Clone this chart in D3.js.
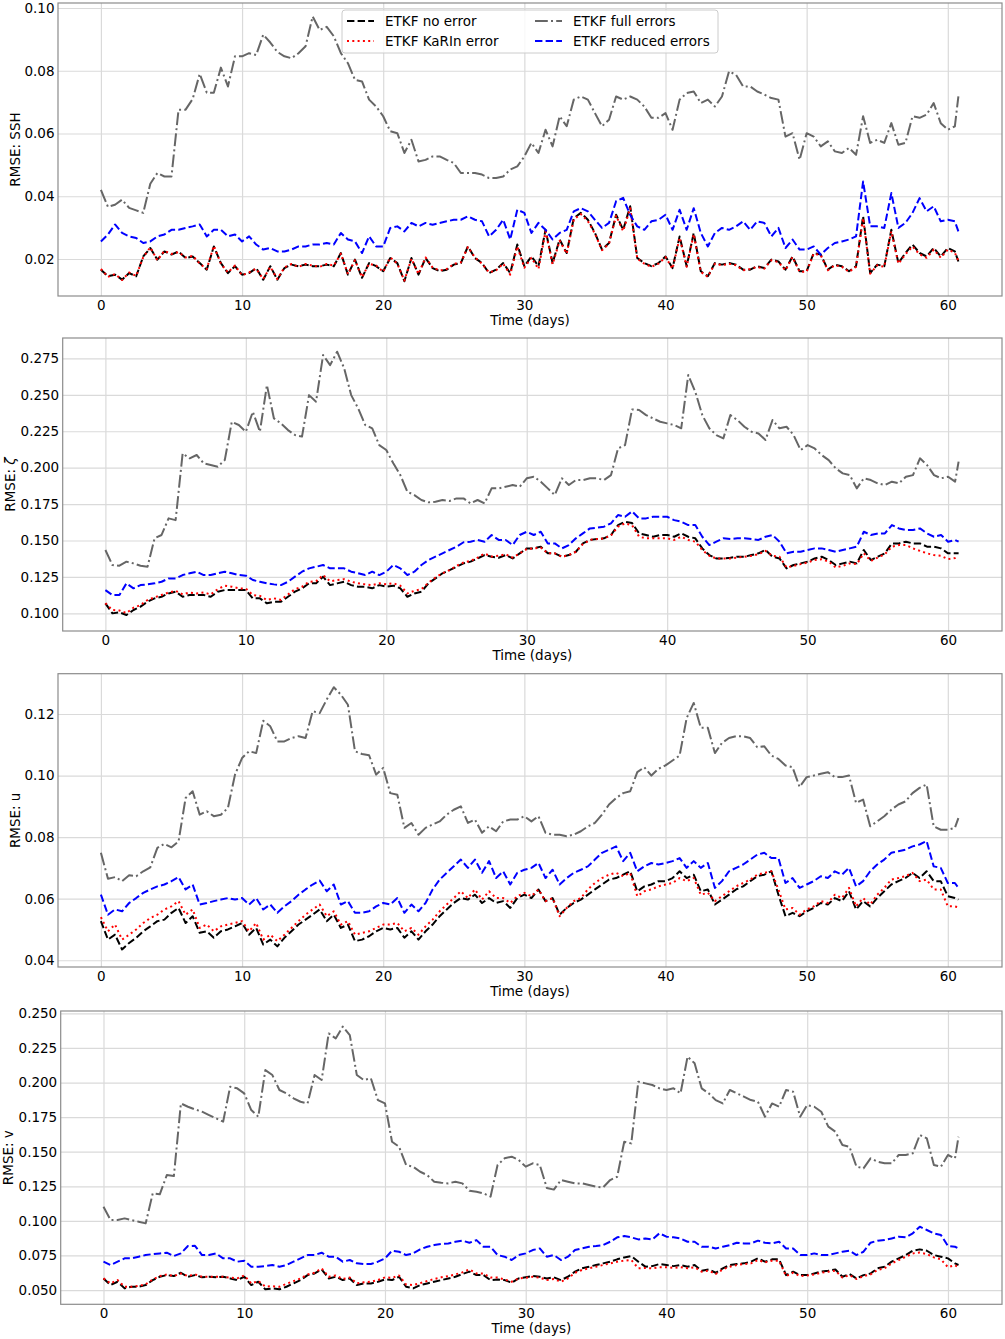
<!DOCTYPE html>
<html>
<head>
<meta charset="utf-8">
<script src="https://cdn.jsdelivr.net/npm/d3@7"></script>
<style>
  body { margin: 0; background: #fff; }
  svg text { font-family: "DejaVu Sans", sans-serif; }
</style>
</head>
<body>
<svg id="fig" width="1005" height="1339"></svg>
<script>
// time axis (days), half-day sampling
const days = [
  0,0.5,1,1.5,2,2.5,3,3.5,4,4.5, 5,5.5,6,6.5,7,7.5,8,8.5,9,9.5,
  10,10.5,11,11.5,12,12.5,13,13.5,14,14.5, 15,15.5,16,16.5,17,17.5,18,18.5,19,19.5,
  20,20.5,21,21.5,22,22.5,23,23.5,24,24.5, 25,25.5,26,26.5,27,27.5,28,28.5,29,29.5,
  30,30.5,31,31.5,32,32.5,33,33.5,34,34.5, 35,35.5,36,36.5,37,37.5,38,38.5,39,39.5,
  40,40.5,41,41.5,42,42.5,43,43.5,44,44.5, 45,45.5,46,46.5,47,47.5,48,48.5,49,49.5,
  50,50.5,51,51.5,52,52.5,53,53.5,54,54.5, 55,55.5,56,56.5,57,57.5,58,58.5,59,59.5,
  60,60.5,60.75
];

const seriesNames = ["ETKF no error", "ETKF KaRIn error", "ETKF full errors", "ETKF reduced errors"];
const xTicks = [0, 10, 20, 30, 40, 50, 60];

// --- SSH ---
const sshNoErr = [
  0.0166,0.0145,0.015,0.0134,0.0155,0.0145,0.0208,0.0235,0.0198,0.0224,
  0.0214,0.0224,0.0203,0.0208,0.0187,0.0166,0.024,0.0187,0.0155,0.0177,
  0.015,0.0155,0.0171,0.0134,0.0177,0.0134,0.0171,0.0182,0.0177,0.0182,
  0.0177,0.0177,0.0182,0.0177,0.0219,0.015,0.0198,0.014,0.0187,0.0177,
  0.0161,0.0203,0.0187,0.0129,0.0203,0.015,0.0203,0.0171,0.0161,0.0166,
  0.0182,0.0187,0.024,0.0203,0.0187,0.0155,0.0166,0.0187,0.0155,0.0246,
  0.0177,0.0208,0.0177,0.0293,0.0187,0.0262,0.0219,0.033,0.0347,0.0325,
  0.0283,0.023,0.0251,0.0341,0.0293,0.0368,0.0203,0.0187,0.0177,0.0187,
  0.0208,0.0171,0.0272,0.0177,0.0283,0.0161,0.0145,0.0187,0.0182,0.0187,
  0.0182,0.0166,0.0166,0.0177,0.0171,0.0198,0.0192,0.0166,0.0208,0.0161,
  0.0161,0.0219,0.0214,0.0166,0.0182,0.0177,0.0161,0.0177,0.0336,0.0155,
  0.0182,0.0177,0.0293,0.0187,0.0219,0.0246,0.0219,0.0208,0.0235,0.0208,
  0.0235,0.0224,0.0192
];
const sshKarin = [
  0.0168,0.0143,0.0152,0.0133,0.0157,0.0146,0.0206,0.0237,0.0196,0.0226,
  0.0216,0.0222,0.0205,0.021,0.0185,0.0168,0.0242,0.0185,0.0157,0.0179,
  0.0148,0.0157,0.0169,0.0136,0.0175,0.0136,0.0173,0.0184,0.0175,0.0184,
  0.0179,0.0175,0.0184,0.0179,0.0217,0.0152,0.0196,0.0142,0.0185,0.0179,
  0.0159,0.0205,0.0185,0.0131,0.0201,0.0152,0.0205,0.0173,0.0163,0.0168,
  0.0184,0.0189,0.0238,0.0205,0.0185,0.0157,0.0164,0.0185,0.015,0.024,
  0.0172,0.0204,0.0168,0.0288,0.0183,0.0258,0.0217,0.0326,0.0343,0.0321,
  0.0281,0.0228,0.0249,0.0338,0.0289,0.0362,0.0201,0.0185,0.0175,0.0185,
  0.0206,0.0169,0.0268,0.0175,0.0279,0.0159,0.0143,0.0185,0.018,0.0185,
  0.018,0.0164,0.0168,0.0175,0.0169,0.0196,0.019,0.0164,0.0206,0.0159,
  0.0159,0.0217,0.0212,0.0164,0.018,0.0175,0.0159,0.0175,0.033,0.0153,
  0.018,0.0175,0.0288,0.0185,0.0215,0.024,0.0215,0.0204,0.023,0.0204,
  0.023,0.022,0.0194
];
const sshFull = [
  0.042,0.0366,0.0373,0.0389,0.0363,0.0355,0.0347,0.044,0.0474,0.0463,
  0.0463,0.0676,0.0676,0.071,0.079,0.073,0.073,0.081,0.075,0.0846,
  0.0846,0.0856,0.085,0.0915,0.089,0.086,0.0846,0.084,0.0856,0.0878,
  0.0973,0.093,0.094,0.091,0.0856,0.0824,0.0771,0.0766,0.0708,0.0686,
  0.0655,0.0607,0.0601,0.0538,0.058,0.0511,0.0516,0.0527,0.0527,0.0516,
  0.0506,0.0474,0.0474,0.0474,0.0469,0.0458,0.0458,0.0463,0.0485,0.0495,
  0.0527,0.057,0.0538,0.0612,0.0559,0.0655,0.0623,0.0708,0.0718,0.0708,
  0.0665,0.0623,0.0644,0.0718,0.0708,0.0718,0.0708,0.0686,0.065,0.065,
  0.0665,0.0612,0.0708,0.0729,0.0734,0.0697,0.0708,0.0686,0.0718,0.0798,
  0.0787,0.075,0.075,0.0734,0.0724,0.0713,0.0708,0.059,0.0601,0.0516,
  0.0601,0.059,0.0559,0.0575,0.0543,0.0538,0.0554,0.0532,0.0655,0.057,
  0.058,0.057,0.0633,0.0564,0.057,0.0655,0.065,0.066,0.0697,0.0633,
  0.0612,0.0623,0.0718
];
const sshReduced = [
  0.0256,0.0278,0.031,0.0283,0.0272,0.0267,0.0251,0.0256,0.0272,0.0278,
  0.0293,0.0293,0.0299,0.0304,0.031,0.0272,0.0293,0.0293,0.0272,0.0278,
  0.0256,0.0272,0.0246,0.023,0.0235,0.0224,0.0224,0.023,0.024,0.024,
  0.0246,0.0246,0.0251,0.0246,0.0283,0.0262,0.0256,0.0219,0.0272,0.024,
  0.024,0.0299,0.0304,0.0288,0.0315,0.0304,0.0315,0.0309,0.0315,0.032,
  0.0325,0.0325,0.0336,0.0325,0.032,0.0272,0.0293,0.0325,0.0262,0.0357,
  0.0347,0.0283,0.0315,0.0293,0.0262,0.0283,0.0293,0.0352,0.0362,0.0352,
  0.0325,0.0299,0.0315,0.0384,0.0395,0.034,0.0304,0.0293,0.032,0.0325,
  0.0341,0.0293,0.0357,0.0293,0.0362,0.0283,0.024,0.0283,0.0299,0.0293,
  0.0304,0.032,0.0293,0.032,0.0315,0.0272,0.0299,0.0235,0.0262,0.023,
  0.023,0.024,0.0214,0.0235,0.0251,0.0256,0.0262,0.0272,0.0447,0.0304,
  0.0304,0.0299,0.041,0.0299,0.0315,0.0347,0.0394,0.0352,0.0368,0.032,
  0.0325,0.032,0.0288
];

// --- zeta ---
const zetaNoErr = [
  0.1069,0.1,0.1007,0.0989,0.1023,0.1046,0.108,0.1103,0.1114,0.1137,
  0.1149,0.1114,0.1126,0.1126,0.1126,0.1114,0.1149,0.116,0.116,0.116,
  0.116,0.1103,0.1103,0.1069,0.108,0.108,0.1114,0.1149,0.1172,0.1206,
  0.1206,0.1252,0.1194,0.1206,0.1217,0.1194,0.1183,0.1183,0.1172,0.1194,
  0.1183,0.119,0.1172,0.1114,0.1137,0.1149,0.1206,0.124,0.1275,0.1297,
  0.132,0.1343,0.1355,0.1377,0.14,0.1389,0.1382,0.14,0.1377,0.1412,
  0.1446,0.1446,0.1458,0.1412,0.1412,0.1389,0.14,0.1423,0.148,0.1504,
  0.151,0.1515,0.1538,0.1606,0.1629,0.162,0.1549,0.1538,0.1526,0.1538,
  0.1538,0.1526,0.1549,0.1526,0.1515,0.1446,0.14,0.1377,0.1377,0.1382,
  0.1389,0.1389,0.14,0.1412,0.1435,0.1389,0.1377,0.1309,0.1332,0.1343,
  0.1355,0.1377,0.1389,0.1366,0.1332,0.1343,0.1355,0.1343,0.1435,0.1366,
  0.1389,0.1412,0.148,0.148,0.1492,0.148,0.148,0.1458,0.1458,0.1446,
  0.1412,0.1412,0.1412
];
const zetaKarin = [
  0.107,0.1023,0.102,0.1002,0.1039,0.1057,0.1092,0.111,0.1126,0.1143,
  0.1155,0.113,0.1143,0.1137,0.1143,0.113,0.1166,0.119,0.1183,0.1172,
  0.117,0.1126,0.112,0.1092,0.1103,0.1092,0.113,0.1166,0.1183,0.1217,
  0.122,0.1263,0.122,0.1229,0.1235,0.1217,0.1206,0.1199,0.1194,0.1206,
  0.12,0.1206,0.119,0.1137,0.1155,0.1166,0.121,0.1246,0.1275,0.1297,
  0.1326,0.1349,0.136,0.1383,0.141,0.139,0.1395,0.1405,0.1383,0.1412,
  0.1441,0.1446,0.1452,0.1412,0.1412,0.1389,0.14,0.1423,0.1475,0.1504,
  0.151,0.1515,0.1535,0.1595,0.1618,0.1605,0.1526,0.1515,0.1515,0.1515,
  0.1515,0.1504,0.1526,0.1504,0.1492,0.1435,0.1395,0.1377,0.1377,0.1377,
  0.1383,0.1389,0.1395,0.1406,0.1429,0.1395,0.1389,0.1315,0.1326,0.1338,
  0.1349,0.1366,0.1372,0.1355,0.1315,0.1326,0.1343,0.1338,0.1412,0.136,
  0.1383,0.1406,0.1458,0.1469,0.1469,0.1446,0.1429,0.1412,0.14,0.1395,
  0.1372,0.138,0.139
];
const zetaFull = [
  0.1435,0.1332,0.1327,0.1355,0.1343,0.1327,0.132,0.1515,0.1538,0.1652,
  0.164,0.2098,0.2064,0.2087,0.203,0.2018,0.2007,0.2052,0.2315,0.2293,
  0.2247,0.2384,0.2247,0.2567,0.2338,0.2304,0.2258,0.2224,0.2213,0.2498,
  0.2453,0.2773,0.2704,0.2796,0.2682,0.2498,0.2407,0.2293,0.227,0.2155,
  0.2121,0.203,0.1949,0.1835,0.1812,0.1778,0.1762,0.1766,0.1778,0.1771,
  0.1789,0.1789,0.1755,0.1778,0.1755,0.1858,0.1858,0.1869,0.1881,0.1869,
  0.1927,0.1938,0.1904,0.1858,0.1812,0.1927,0.1881,0.1915,0.1915,0.1927,
  0.1927,0.1915,0.1949,0.2132,0.2155,0.24,0.2396,0.2361,0.2338,0.2315,
  0.2304,0.2293,0.227,0.2636,0.2521,0.2361,0.227,0.2224,0.2201,0.2361,
  0.2327,0.2281,0.2247,0.2235,0.219,0.2327,0.227,0.2281,0.2224,0.2121,
  0.2155,0.2132,0.2087,0.2052,0.1995,0.1961,0.1949,0.1858,0.1927,0.1915,
  0.1892,0.1881,0.1904,0.1892,0.1938,0.1949,0.2064,0.2018,0.1949,0.1927,
  0.1938,0.1904,0.2041
];
const zetaReduced = [
  0.116,0.1126,0.1126,0.1206,0.1172,0.1194,0.1199,0.1206,0.1217,0.124,
  0.124,0.1263,0.1275,0.1286,0.1263,0.1263,0.1275,0.1286,0.1275,0.1263,
  0.1259,0.1229,0.1217,0.1206,0.1199,0.1194,0.1217,0.1252,0.1286,0.1309,
  0.132,0.1332,0.1309,0.1309,0.1309,0.1286,0.1275,0.1263,0.1286,0.1263,
  0.1286,0.1332,0.1309,0.1263,0.1286,0.1332,0.1366,0.1389,0.1412,0.1435,
  0.1458,0.1488,0.1492,0.1504,0.1492,0.1538,0.1504,0.1504,0.1469,0.1538,
  0.156,0.1538,0.156,0.148,0.148,0.1446,0.1469,0.1515,0.1549,0.1583,
  0.1588,0.1595,0.1618,0.1675,0.1663,0.17,0.1652,0.1652,0.1663,0.1663,
  0.1663,0.164,0.1629,0.1606,0.1606,0.1526,0.1469,0.1492,0.1515,0.151,
  0.1515,0.1515,0.151,0.1504,0.1526,0.1538,0.1492,0.1412,0.1423,0.1423,
  0.1435,0.1446,0.1446,0.1435,0.1423,0.1435,0.1446,0.1458,0.156,0.1538,
  0.1549,0.1549,0.1606,0.1583,0.1572,0.1572,0.1583,0.1549,0.1526,0.1538,
  0.1492,0.1504,0.1492
];

// --- u ---
const uNoErr = [
  0.0527,0.0467,0.0483,0.0435,0.0456,0.0473,0.0494,0.051,0.0527,0.0532,
  0.0554,0.057,0.0521,0.0543,0.0489,0.0494,0.0473,0.0494,0.05,0.051,
  0.0521,0.0483,0.0505,0.0451,0.0467,0.0445,0.0473,0.0494,0.0516,0.0532,
  0.0548,0.0565,0.0527,0.0548,0.0505,0.0516,0.0462,0.0467,0.0478,0.0494,
  0.0505,0.05,0.0505,0.0473,0.0494,0.0467,0.0494,0.0516,0.0543,0.0565,
  0.0586,0.0602,0.0597,0.0613,0.0586,0.0602,0.0586,0.0592,0.057,0.0602,
  0.0613,0.0602,0.063,0.0592,0.0602,0.0548,0.057,0.0586,0.0597,0.0613,
  0.063,0.0646,0.0662,0.0667,0.0678,0.0689,0.0624,0.064,0.0646,0.0657,
  0.0657,0.0667,0.0689,0.0667,0.0678,0.0624,0.063,0.0581,0.0597,0.0613,
  0.063,0.064,0.0657,0.0673,0.0678,0.0689,0.0613,0.0543,0.0554,0.0543,
  0.0559,0.057,0.0586,0.0581,0.0602,0.0592,0.0624,0.0565,0.0592,0.0575,
  0.0602,0.0624,0.0646,0.0657,0.0667,0.0684,0.0667,0.0689,0.0657,0.0657,
  0.0608,0.0602,0.0597
];
const uKarin = [
  0.054,0.0494,0.0516,0.0467,0.0483,0.05,0.0521,0.0537,0.0548,0.0565,
  0.0575,0.0592,0.0548,0.0565,0.0505,0.0516,0.0494,0.051,0.0516,0.0521,
  0.0527,0.0494,0.0521,0.0467,0.0483,0.0462,0.0483,0.0505,0.0527,0.0548,
  0.0565,0.0581,0.0543,0.0559,0.0516,0.0527,0.0483,0.0489,0.0494,0.0505,
  0.0516,0.0516,0.0521,0.0494,0.0505,0.0483,0.051,0.0532,0.0559,0.0581,
  0.0602,0.0624,0.0602,0.063,0.0597,0.0624,0.0602,0.0602,0.0586,0.0608,
  0.0619,0.0608,0.063,0.0592,0.0602,0.0543,0.057,0.0592,0.0602,0.063,
  0.0651,0.0667,0.0678,0.0684,0.0673,0.0684,0.0608,0.0624,0.063,0.064,
  0.0646,0.0651,0.0667,0.0657,0.0667,0.0613,0.0619,0.0592,0.0608,0.0624,
  0.064,0.0651,0.0662,0.0678,0.0684,0.0689,0.063,0.0565,0.057,0.0548,
  0.0565,0.0575,0.0592,0.0586,0.0613,0.0602,0.0635,0.0575,0.0602,0.0581,
  0.0613,0.0635,0.0662,0.0667,0.0673,0.0684,0.0657,0.0662,0.063,0.063,
  0.0575,0.0575,0.0572
];
const uFull = [
  0.0749,0.0665,0.067,0.0657,0.0676,0.0673,0.0689,0.0702,0.0765,0.0778,
  0.0767,0.0786,0.0927,0.0949,0.0873,0.0884,0.0868,0.0873,0.0895,0.1003,
  0.1057,0.1079,0.1073,0.1178,0.116,0.1111,0.1111,0.1122,0.1128,0.1122,
  0.1209,0.1203,0.1247,0.1287,0.1263,0.123,0.1079,0.107,0.1066,0.1003,
  0.1025,0.0943,0.0938,0.083,0.0846,0.0808,0.083,0.0841,0.0851,0.0873,
  0.0889,0.09,0.0846,0.0857,0.0814,0.0835,0.0819,0.0851,0.0857,0.0857,
  0.0868,0.0851,0.0868,0.0814,0.0808,0.0808,0.0803,0.0808,0.0819,0.0835,
  0.0846,0.0873,0.0906,0.0927,0.0943,0.0949,0.1011,0.1027,0.1,0.1022,
  0.1033,0.1049,0.1065,0.1187,0.1236,0.1155,0.1155,0.1073,0.1106,0.1122,
  0.1128,0.1128,0.1122,0.1092,0.1095,0.1065,0.1054,0.1033,0.1027,0.0963,
  0.0995,0.1,0.1006,0.1011,0.0995,0.0995,0.1,0.0911,0.0922,0.0835,
  0.0851,0.0868,0.0889,0.0906,0.0916,0.0943,0.096,0.0971,0.0835,0.0824,
  0.0824,0.083,0.0862
];
const uReduced = [
  0.0613,0.0548,0.0565,0.0559,0.0586,0.0602,0.0619,0.063,0.064,0.0646,
  0.0657,0.067,0.063,0.0646,0.0581,0.0586,0.0592,0.0597,0.0602,0.0597,
  0.0602,0.0581,0.0602,0.0565,0.0581,0.0554,0.0575,0.0592,0.0613,0.063,
  0.0646,0.0659,0.0624,0.0646,0.0581,0.0592,0.0554,0.0554,0.0559,0.0575,
  0.0586,0.0581,0.0602,0.0554,0.0581,0.0559,0.0586,0.063,0.0662,0.0684,
  0.0705,0.0727,0.07,0.0727,0.0684,0.0722,0.0667,0.0689,0.0646,0.0684,
  0.0694,0.07,0.0716,0.0667,0.0694,0.0646,0.0667,0.0684,0.0694,0.0705,
  0.0727,0.0749,0.0759,0.077,0.0722,0.0749,0.0689,0.0705,0.0716,0.0711,
  0.0716,0.0722,0.0732,0.07,0.0722,0.07,0.0716,0.0635,0.0657,0.0689,
  0.07,0.0711,0.0727,0.0743,0.0749,0.0732,0.0732,0.0651,0.0667,0.0635,
  0.0646,0.0657,0.0673,0.0667,0.0689,0.0678,0.07,0.064,0.0657,0.0689,
  0.0711,0.0727,0.0749,0.0754,0.0759,0.077,0.0776,0.0787,0.0705,0.07,
  0.0651,0.0651,0.0635
];

// --- v ---
const vNoErr = [
  0.0584,0.0536,0.056,0.0512,0.0524,0.0524,0.0536,0.0572,0.0596,0.0608,
  0.0601,0.0625,0.0596,0.0608,0.0592,0.0596,0.0592,0.0596,0.0584,0.0572,
  0.0596,0.0536,0.056,0.0505,0.0512,0.0505,0.0524,0.0548,0.0572,0.0608,
  0.062,0.0649,0.0584,0.0596,0.0572,0.0584,0.0536,0.0548,0.0548,0.056,
  0.0577,0.0572,0.0596,0.0524,0.0512,0.0536,0.0548,0.056,0.0572,0.0584,
  0.0596,0.0616,0.0633,0.0608,0.0608,0.0572,0.0577,0.0572,0.0553,0.0584,
  0.0592,0.0601,0.0596,0.0584,0.0592,0.0572,0.0596,0.0633,0.0657,0.0669,
  0.0681,0.0693,0.0705,0.0722,0.0736,0.0746,0.0705,0.0669,0.0673,0.0688,
  0.0681,0.0673,0.0681,0.0669,0.0681,0.064,0.0649,0.0625,0.0657,0.0681,
  0.0688,0.0693,0.0705,0.0729,0.0705,0.0722,0.0722,0.0608,0.0633,0.0608,
  0.0608,0.062,0.0633,0.064,0.0649,0.0596,0.0616,0.0584,0.0608,0.062,
  0.0657,0.0669,0.0705,0.0729,0.0753,0.0784,0.0794,0.0784,0.0753,0.0741,
  0.0729,0.0693,0.0681
];
const vKarin = [
  0.0584,0.0548,0.0572,0.0524,0.0524,0.053,0.0542,0.0577,0.0601,0.0613,
  0.0601,0.062,0.0601,0.0613,0.0596,0.0596,0.0596,0.0596,0.059,0.0584,
  0.0605,0.0548,0.0565,0.0525,0.0528,0.0524,0.0545,0.0565,0.0584,0.0613,
  0.0625,0.0657,0.0596,0.0605,0.058,0.059,0.0548,0.0556,0.056,0.0572,
  0.0592,0.0588,0.0605,0.054,0.0536,0.055,0.0565,0.058,0.0592,0.0601,
  0.0613,0.0628,0.0649,0.062,0.062,0.059,0.059,0.0577,0.056,0.0584,
  0.0588,0.0596,0.059,0.0572,0.058,0.056,0.0584,0.0625,0.0645,0.0657,
  0.0669,0.0681,0.0693,0.0705,0.0712,0.0717,0.0657,0.066,0.0657,0.0665,
  0.0665,0.066,0.0665,0.0657,0.0665,0.0633,0.064,0.0616,0.0649,0.0669,
  0.0681,0.0688,0.0693,0.0717,0.07,0.0712,0.0712,0.0601,0.0625,0.0601,
  0.0605,0.0613,0.0625,0.0633,0.064,0.059,0.0608,0.058,0.06,0.0613,
  0.0645,0.0657,0.0693,0.0717,0.074,0.0765,0.0772,0.076,0.0736,0.0722,
  0.0665,0.068,0.0665
];
const vFull = [
  0.1102,0.1006,0.1006,0.1018,0.1006,0.0994,0.0982,0.1199,0.1192,0.1331,
  0.1324,0.1849,0.1825,0.1806,0.1789,0.1765,0.1741,0.1717,0.197,0.1958,
  0.1922,0.1801,0.1753,0.209,0.2054,0.1946,0.1922,0.1886,0.1861,0.1849,
  0.2054,0.2018,0.2355,0.2319,0.2404,0.2343,0.2054,0.2018,0.203,0.1873,
  0.1849,0.1572,0.1536,0.1404,0.1392,0.1355,0.1331,0.1283,0.1276,0.1271,
  0.1283,0.1271,0.1218,0.1211,0.1199,0.1175,0.1404,0.1452,0.1464,0.144,
  0.1392,0.1416,0.1404,0.1238,0.1226,0.1295,0.1283,0.1271,0.1271,0.1259,
  0.1247,0.1242,0.1295,0.1319,0.1572,0.156,0.2006,0.1994,0.1982,0.1958,
  0.1946,0.1958,0.1922,0.2187,0.2139,0.1958,0.1922,0.1873,0.1849,0.1946,
  0.1922,0.1898,0.1873,0.1861,0.1753,0.1849,0.1825,0.1946,0.1934,0.1753,
  0.1837,0.1825,0.1789,0.1681,0.1645,0.1548,0.1536,0.1392,0.138,0.1452,
  0.1428,0.1416,0.1416,0.1476,0.1476,0.1488,0.1621,0.1596,0.1404,0.1392,
  0.1476,0.1452,0.1608
];
const vReduced = [
  0.0705,0.0681,0.0705,0.0729,0.0729,0.0741,0.0753,0.076,0.0765,0.077,
  0.0746,0.0765,0.0818,0.082,0.0753,0.0753,0.0765,0.0729,0.0729,0.0705,
  0.0712,0.0669,0.0669,0.0673,0.0681,0.0669,0.0681,0.0705,0.0729,0.0753,
  0.0753,0.077,0.0741,0.0741,0.0705,0.0717,0.0693,0.0688,0.0688,0.0705,
  0.0729,0.0784,0.0777,0.0753,0.0765,0.0794,0.0813,0.0825,0.0833,0.0837,
  0.0849,0.0857,0.0842,0.0861,0.0813,0.0813,0.0753,0.0741,0.0717,0.0753,
  0.0765,0.0789,0.0801,0.0741,0.0753,0.0717,0.0741,0.0789,0.0801,0.0813,
  0.0818,0.0825,0.0849,0.0881,0.089,0.0881,0.0866,0.0873,0.0866,0.091,
  0.0886,0.0881,0.0873,0.0849,0.0849,0.0813,0.0813,0.0801,0.0813,0.0825,
  0.0842,0.0837,0.0837,0.0857,0.0842,0.0837,0.0849,0.0801,0.0801,0.0753,
  0.0753,0.0765,0.0753,0.0753,0.0765,0.0777,0.0784,0.0753,0.0777,0.0842,
  0.0857,0.0861,0.0873,0.0886,0.0881,0.091,0.0958,0.0934,0.091,0.0898,
  0.0818,0.0813,0.0801
];

// y ticks per panel
const sshTicks  = [0.02, 0.04, 0.06, 0.08, 0.10];
const zetaTicks = [0.100, 0.125, 0.150, 0.175, 0.200, 0.225, 0.250, 0.275];
const uTicks    = [0.04, 0.06, 0.08, 0.10, 0.12];
const vTicks    = [0.050, 0.075, 0.100, 0.125, 0.150, 0.175, 0.200, 0.225, 0.250];

// line styles, in legend order
const styles = [
  { color: "#000000", dash: "7.4,3.2" },
  { color: "#ff0000", dash: "2,3.3" },
  { color: "#666666", dash: "12.8,3.2,2,3.2" },
  { color: "#0000ff", dash: "7.4,3.2" }
];

const panels = [
  { label: "SSH", italic: false, ticks: sshTicks, fmt: ".2f", domain: [0.0082, 0.1016],
    box: { left: 58, right: 1002, top: 3, bottom: 296 }, labelX: 20,
    series: [sshNoErr, sshKarin, sshFull, sshReduced], legend: true },
  { label: "ζ", italic: true, ticks: zetaTicks, fmt: ".3f", domain: [0.0879, 0.289],
    box: { left: 62.7, right: 1002, top: 338, bottom: 631 }, labelX: 15,
    series: [zetaNoErr, zetaKarin, zetaFull, zetaReduced] },
  { label: "u", italic: false, ticks: uTicks, fmt: ".2f", domain: [0.0378, 0.1331],
    box: { left: 58, right: 1002, top: 673.7, bottom: 967 }, labelX: 20,
    series: [uNoErr, uKarin, uFull, uReduced] },
  { label: "v", italic: false, ticks: vTicks, fmt: ".3f", domain: [0.0397, 0.2517],
    box: { left: 60.7, right: 1002, top: 1011, bottom: 1304.3 }, labelX: 13,
    series: [vNoErr, vKarin, vFull, vReduced] }
];

const svg = d3.select("#fig");
svg.append("rect").attr("width", 1005).attr("height", 1339).attr("fill", "#fff");

panels.forEach((p, i) => drawPanel(p, i));

function drawPanel(p, i) {
  const b = p.box;
  const w = b.right - b.left;
  const h = b.bottom - b.top;

  const x = d3.scaleLinear().domain([-3.04, 63.84]).range([0, w]);
  const y = d3.scaleLinear().domain(p.domain).range([h, 0]);

  const g = svg.append("g").attr("transform", `translate(${b.left},${b.top})`);

  g.append("clipPath").attr("id", "clip" + i)
    .append("rect").attr("width", w).attr("height", h);

  // grid
  g.append("g")
    .attr("class", "grid")
    .attr("transform", `translate(0,${h})`)
    .call(d3.axisBottom(x).tickValues(xTicks).tickSize(-h).tickFormat(""))
    .call(a => a.select(".domain").remove());
  g.append("g")
    .attr("class", "grid")
    .call(d3.axisLeft(y).tickValues(p.ticks).tickSize(-w).tickFormat(""))
    .call(a => a.select(".domain").remove());
  g.selectAll(".grid line").attr("stroke", "#dadada").attr("stroke-width", 1.2);

  // tick labels
  g.append("g")
    .attr("transform", `translate(0,${h})`)
    .call(d3.axisBottom(x).tickValues(xTicks).tickSize(0).tickPadding(4).tickFormat(d3.format("d")))
    .call(a => a.select(".domain").remove())
    .selectAll("text")
    .style("font-size", "13.5px").attr("fill", "#000");
  g.append("g")
    .call(d3.axisLeft(y).tickValues(p.ticks).tickSize(0).tickPadding(3.5).tickFormat(d3.format(p.fmt)))
    .call(a => a.select(".domain").remove())
    .selectAll("text")
    .style("font-size", "13.5px").attr("fill", "#000");

  // series
  const line = d3.line()
    .x((d, k) => x(days[k]))
    .y(d => y(d));

  const lines = g.append("g").attr("clip-path", `url(#clip${i})`);
  p.series.forEach((s, k) => {
    lines.append("path")
      .datum(s)
      .attr("d", line)
      .attr("fill", "none")
      .attr("stroke", styles[k].color)
      .attr("stroke-width", 2)
      .attr("stroke-dasharray", styles[k].dash)
      .attr("stroke-linejoin", "round");
  });

  // frame
  g.append("rect")
    .attr("width", w).attr("height", h)
    .attr("fill", "none")
    .attr("stroke", "#8c8c8c")
    .attr("stroke-width", 1.2);

  // axis labels
  g.append("text")
    .attr("x", w / 2)
    .attr("y", h + 29)
    .attr("text-anchor", "middle")
    .style("font-size", "13.5px")
    .text("Time (days)");

  const yl = svg.append("text")
    .attr("transform", `translate(${p.labelX},${b.top + h / 2}) rotate(-90)`)
    .attr("text-anchor", "middle")
    .style("font-size", "13.5px");
  yl.append("tspan").text("RMSE: ");
  yl.append("tspan").style("font-style", p.italic ? "italic" : "normal").text(p.label);

  if (p.legend) drawLegend(g, b);
}

function drawLegend(g, b) {
  const lx = 342 - b.left;
  const ly = 10 - b.top;
  const lg = g.append("g").attr("transform", `translate(${lx},${ly})`);

  lg.append("rect")
    .attr("width", 376).attr("height", 43)
    .attr("rx", 3)
    .attr("fill", "#fff").attr("fill-opacity", 0.8)
    .attr("stroke", "#cccccc").attr("stroke-width", 1);

  const cols = [5, 193];
  const rows = [11, 31];
  seriesNames.forEach((name, k) => {
    const cx = cols[Math.floor(k / 2)];
    const cy = rows[k % 2];
    lg.append("line")
      .attr("x1", cx).attr("x2", cx + 27)
      .attr("y1", cy).attr("y2", cy)
      .attr("stroke", styles[k].color)
      .attr("stroke-width", 2)
      .attr("stroke-dasharray", styles[k].dash);
    lg.append("text")
      .attr("x", cx + 38)
      .attr("y", cy)
      .attr("dy", "0.35em")
      .style("font-size", "13.5px")
      .text(name);
  });
}
</script>
</body>
</html>
